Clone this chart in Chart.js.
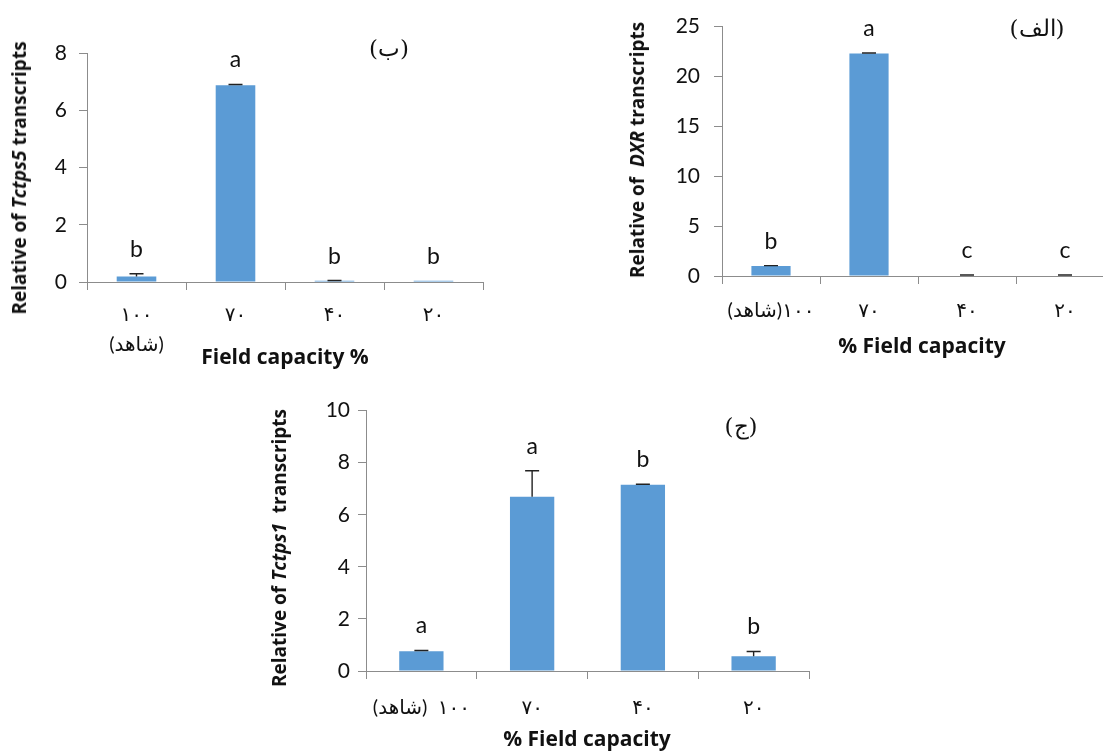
<!DOCTYPE html>
<html>
<head>
<meta charset="utf-8">
<script src="https://cdn.jsdelivr.net/npm/chart.js@4.4.1/dist/chart.umd.min.js"></script>
<style>
  html, body { margin: 0; padding: 0; background: #fff; overflow: hidden; }
  body { width: 1103px; height: 751px; position: relative; font-family: "Open Sans", "DejaVu Sans", sans-serif; color: #111; }
  canvas { position: absolute; }
  .ytitle, .xtitle, .panel { position: absolute; white-space: nowrap; font-weight: bold; }
  .ytitle { transform: translate(-50%, -50%) rotate(-90deg); font-size: 19px; }
  .xtitle { transform: translate(-50%, -50%); font-size: 21px; }
  .panel { transform: translate(-50%, -50%); font-weight: normal; font-size: 23px; font-family: "DejaVu Serif", "Liberation Serif", serif; }
</style>
</head>
<body>

<canvas id="chart-b" width="500" height="370" style="left:0;top:0"></canvas>
<canvas id="chart-a" width="520" height="370" style="left:600px;top:0"></canvas>
<canvas id="chart-c" width="560" height="361" style="left:260px;top:390px"></canvas>

<div class="ytitle" style="left:19px;top:178px">Relative of <i>Tctps5</i> transcripts</div>
<div class="xtitle" style="left:285px;top:356px">Field capacity %</div>
<div class="panel" style="left:389px;top:48px">(ب)</div>

<div class="ytitle" style="left:637px;top:150px">Relative of&nbsp; <i>DXR</i> transcripts</div>
<div class="xtitle" style="left:922px;top:345px">% Field capacity</div>
<div class="panel" style="left:1037px;top:28px">(الف)</div>

<div class="ytitle" style="left:279px;top:548px">Relative of <i>Tctps1</i>&nbsp; transcripts</div>
<div class="xtitle" style="left:587px;top:738px">% Field capacity</div>
<div class="panel" style="left:741px;top:426px">(ج)</div>

<script>
// ── Data ──
// panel (ب) Tctps5
const catsB = [['۱۰۰', '\u202B(شاهد)\u202C'], '۷۰', '۴۰', '۲۰'];
const valsB = [0.19, 6.87, 0.04, 0.04];
const errB = [0.10, 0.03, 0.01, 0];
const letB = ['b', 'a', 'b', 'b'];

// panel (الف) DXR
const catsA = ['\u202B۱۰۰(شاهد)\u202C', '۷۰', '۴۰', '۲۰'];
const valsA = [0.99, 22.3, 0.05, 0.05];
const errA = [0.05, 0.05, 0.05, 0.05];
const letA = ['b', 'a', 'c', 'c'];

// panel (ج) Tctps1
const catsC = ['\u202B۱۰۰  (شاهد)\u202C', '۷۰', '۴۰', '۲۰'];
const valsC = [0.76, 6.69, 7.15, 0.57];
const errC = [0.03, 1.0, 0.02, 0.18];
const letC = ['a', 'a', 'b', 'b'];

const FONT = 'Lato, "DejaVu Sans", sans-serif';
const BAR = '#5b9bd5';
const AXIS = '#8c8c8c';

// error bars (upper only) and significance letters
const annotatePlugin = {
  id: 'annotate',
  afterDatasetsDraw(chart, args, opts) {
    const ctx = chart.ctx;
    const y = chart.scales.y;
    const meta = chart.getDatasetMeta(0);
    ctx.save();
    meta.data.forEach(function(bar, i) {
      const v = opts.values[i];
      const e = opts.errors[i];
      const yTop = y.getPixelForValue(v + e);
      if (e > 0) {
        ctx.strokeStyle = '#222';
        ctx.lineWidth = 1.4;
        ctx.beginPath();
        ctx.moveTo(bar.x, y.getPixelForValue(v));
        ctx.lineTo(bar.x, yTop);
        ctx.moveTo(bar.x - 7, yTop);
        ctx.lineTo(bar.x + 7, yTop);
        ctx.stroke();
      }
      ctx.fillStyle = '#111';
      ctx.font = '23px ' + FONT;
      ctx.textAlign = 'center';
      ctx.textBaseline = 'alphabetic';
      ctx.fillText(opts.letters[i], bar.x, yTop - 17);
    });
    ctx.restore();
  }
};

function makeChart(id, cats, vals, errs, lets, cfg) {
  return new Chart(document.getElementById(id), {
    type: 'bar',
    data: {
      labels: cats,
      datasets: [{ data: vals, backgroundColor: BAR, borderWidth: 0, barPercentage: 0.4, categoryPercentage: 1 }]
    },
    options: {
      responsive: false,
      animation: false,
      devicePixelRatio: 1,
      layout: { padding: cfg.pad },
      plugins: {
        legend: { display: false },
        tooltip: { enabled: false },
        annotate: { values: vals, errors: errs, letters: lets }
      },
      scales: {
        x: {
          grid: { drawOnChartArea: false, color: AXIS, tickLength: 8 },
          border: { color: AXIS },
          ticks: { color: '#111', padding: cfg.xPad, font: { family: FONT, size: 20, lineHeight: 1.5 } },
          afterFit: function(s) { s.height = cfg.xH; }
        },
        y: {
          min: 0, max: cfg.max,
          grid: { drawOnChartArea: false, color: AXIS, tickLength: 8 },
          border: { color: AXIS },
          ticks: { stepSize: cfg.step, color: '#111', padding: cfg.yPad, font: { family: FONT, size: 21 } },
          afterFit: function(s) { s.width = cfg.yW; }
        }
      }
    },
    plugins: [annotatePlugin]
  });
}

makeChart('chart-b', catsB, valsB, errB, letB,
  { max: 8, step: 2, pad: { left: 40, top: 53, right: 17, bottom: 0 }, yW: 47, xH: 88, xPad: 10, yPad: 12 });
makeChart('chart-a', catsA, valsA, errA, letA,
  { max: 25, step: 5, pad: { left: 70, top: 22, right: 6, bottom: 0 }, yW: 52, xH: 94, xPad: 12, yPad: 14 });
makeChart('chart-c', catsC, valsC, errC, letC,
  { max: 10, step: 2, pad: { left: 60, top: 17, right: 11, bottom: 0 }, yW: 46, xH: 80, xPad: 14, yPad: 8 });
</script>
</body>
</html>
